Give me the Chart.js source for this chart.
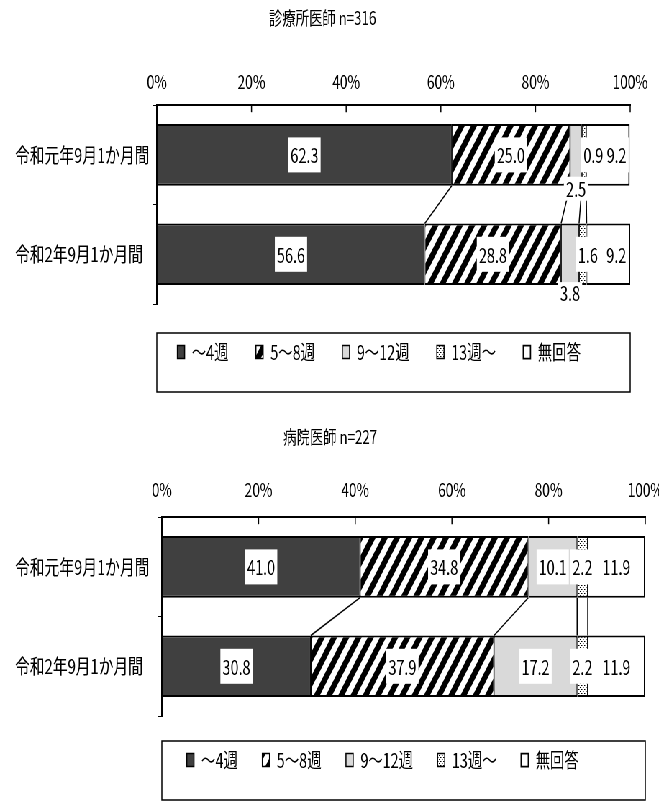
<!DOCTYPE html>
<html lang="ja">
<head>
<meta charset="utf-8">
<title>診療所医師・病院医師</title>
<script src="https://cdn.jsdelivr.net/npm/chart.js@4.4.1/dist/chart.umd.min.js"></script>
<style>
  html, body { margin: 0; padding: 0; background: #fff; overflow: hidden; }
  /* narrow gothic look: the charts are laid out wide, then squeezed */
  #sheet { width: 916px; transform: scaleX(0.7194); transform-origin: 0 0; }
  canvas { display: block; }
</style>
</head>
<body>
<div id="sheet">
  <canvas id="clinic" width="916" height="405"></canvas>
  <canvas id="hospital" width="916" height="400"></canvas>
</div>
<script>
// 期間と回答区分
const periods = ['令和元年9月1か月間', '令和2年9月1か月間'];
const bands = ['～4週', '5～8週', '9～12週', '13週～', '無回答'];

// 診療所医師 n=316 (%)
const clinicTitle = '診療所医師 n=316';
const clinicUpTo4 = [62.3, 56.6];
const clinic5to8 = [25.0, 28.8];
const clinic9to12 = [2.5, 3.8];
const clinic13plus = [0.9, 1.6];
const clinicNoAnswer = [9.2, 9.2];

// 病院医師 n=227 (%)
const hospitalTitle = '病院医師 n=227';
const hospitalUpTo4 = [41.0, 30.8];
const hospital5to8 = [34.8, 37.9];
const hospital9to12 = [10.1, 17.2];
const hospital13plus = [2.2, 2.2];
const hospitalNoAnswer = [11.9, 11.9];

const FONT = '"Noto Sans CJK JP", "Noto Sans", sans-serif';
Chart.defaults.font.family = FONT;
Chart.defaults.color = '#000';

// 斜線パターン
function hatchFill() {
  const tile = document.createElement('canvas');
  tile.width = 17; tile.height = 24;
  const g = tile.getContext('2d');
  g.fillStyle = '#fff';
  g.fillRect(0, 0, 17, 24);
  g.strokeStyle = '#000';
  g.lineWidth = 7;
  for (const dx of [-17, 0, 17]) {
    g.beginPath();
    g.moveTo(dx - 17, 48);
    g.lineTo(dx + 34, -24);
    g.stroke();
  }
  return g.createPattern(tile, 'repeat');
}

// 網点パターン
function dotFill() {
  const tile = document.createElement('canvas');
  tile.width = 4; tile.height = 4;
  const g = tile.getContext('2d');
  g.fillStyle = '#fff';
  g.fillRect(0, 0, 4, 4);
  g.fillStyle = '#000';
  g.fillRect(0, 0, 1.5, 1);
  g.fillRect(2, 2, 1.5, 1);
  return g.createPattern(tile, 'repeat');
}

const fills = ['#404040', hatchFill(), '#d9d9d9', dotFill(), '#ffffff'];

// 区分の境目をつなぐ線と数値ラベル(白地)
const valueLabels = {
  id: 'valueLabels',
  afterDatasetsDraw(chart, args, opts) {
    const { ctx } = chart;
    ctx.save();

    ctx.strokeStyle = '#000';
    ctx.lineWidth = 1.5;
    for (let i = 0; i < chart.data.datasets.length - 1; i++) {
      const [upper, lower] = chart.getDatasetMeta(i).data;
      ctx.beginPath();
      ctx.moveTo(upper.x, upper.y + upper.height / 2);
      ctx.lineTo(lower.x, lower.y - lower.height / 2);
      ctx.stroke();
    }

    ctx.font = '20px ' + FONT;
    ctx.textAlign = 'center';
    ctx.textBaseline = 'middle';
    chart.data.datasets.forEach((ds, i) => {
      chart.getDatasetMeta(i).data.forEach((bar, j) => {
        const nudge = (opts.nudges || {})[i + ':' + j] || {};
        const text = ds.data[j].toFixed(1);
        const x = (bar.x + bar.base) / 2 + (nudge.dx || 0);
        const y = nudge.below !== undefined ? bar.y + bar.height / 2 + nudge.below : bar.y;
        const w = ctx.measureText(text).width + 6;
        const h = nudge.boxH || 35;
        ctx.fillStyle = '#fff';
        ctx.fillRect(x - w / 2, y - h / 2, w, h);
        ctx.fillStyle = '#000';
        ctx.fillText(text, x, y + 1);
      });
    });
    ctx.restore();
  }
};

// 目盛線は軸から内側へ
const innerTicks = {
  id: 'innerTicks',
  afterDatasetsDraw(chart) {
    const { ctx, chartArea, scales: { x } } = chart;
    ctx.save();
    ctx.strokeStyle = '#000';
    ctx.lineWidth = 1.5;
    x.ticks.forEach(t => {
      const px = x.getPixelForValue(t.value);
      ctx.beginPath();
      ctx.moveTo(px, chartArea.top);
      ctx.lineTo(px, chartArea.top + 7);
      ctx.stroke();
    });
    ctx.restore();
  }
};

// 凡例の位置合わせと枠
const legendFrame = {
  id: 'legendFrame',
  afterLayout(chart, args, opts) {
    const lg = chart.legend;
    const d = opts.centerX - (lg.left + lg.right) / 2;
    lg.left += d;
    lg.right += d;
  },
  afterDraw(chart) {
    const { ctx, chartArea, legend } = chart;
    const lab = legend.options.labels;
    const cy = legend.top + lab.padding + Math.max(lab.font.size, lab.boxHeight) / 2;
    ctx.save();
    ctx.strokeStyle = '#000';
    ctx.lineWidth = 1.5;
    ctx.strokeRect(chartArea.left, cy - 19, chartArea.right - chartArea.left, 59);
    ctx.restore();
  }
};

function drawChart(canvasId, title, series, look) {
  return new Chart(document.getElementById(canvasId), {
    type: 'bar',
    data: {
      labels: periods,
      datasets: series.map((data, i) => ({
        label: bands[i],
        data,
        backgroundColor: fills[i],
        borderColor: '#000',
        borderWidth: { top: 2, bottom: 2, left: 1, right: i === series.length - 1 ? 2 : 1 },
        borderSkipped: false,
        barPercentage: 0.62,
        categoryPercentage: 1
      }))
    },
    options: {
      indexAxis: 'y',
      responsive: false,
      animation: false,
      devicePixelRatio: 1,
      layout: { padding: { left: 21, right: look.padRight, top: 0, bottom: look.padBottom } },
      scales: {
        x: {
          position: 'top',
          stacked: true,
          min: 0,
          max: 100,
          ticks: { stepSize: 20, padding: look.tickPad, font: { size: 19 }, callback: v => v + '%' },
          grid: { drawOnChartArea: false, drawTicks: false },
          border: { color: '#000', width: 2 },
          afterFit: s => { s.height = look.xAxisHeight; s.paddingLeft = 0; s.paddingRight = 0; }
        },
        y: {
          stacked: true,
          ticks: { crossAlign: 'far', font: { size: 20.5 } },
          grid: { offset: true, drawOnChartArea: false, tickLength: 5, color: '#000', lineWidth: 1 },
          border: { color: '#000', width: 2 },
          afterFit: s => { s.width = look.yAxisWidth; s.paddingTop = 0; s.paddingBottom = 0; }
        }
      },
      plugins: {
        title: {
          display: true,
          text: title,
          font: { size: 18.5, weight: 'normal' },
          padding: { top: look.titleTop, bottom: 0 }
        },
        legend: {
          position: 'bottom',
          labels: { boxWidth: 10, boxHeight: 13, padding: look.legendPad, font: { size: 20 } }
        },
        tooltip: { enabled: false },
        valueLabels: { nudges: look.nudges || {} },
        legendFrame: { centerX: look.legendCenter }
      }
    },
    plugins: [innerTicks, valueLabels, legendFrame]
  });
}

drawChart('clinic', clinicTitle,
  [clinicUpTo4, clinic5to8, clinic9to12, clinic13plus, clinicNoAnswer], {
    padRight: 40, padBottom: 33, titleTop: 7, xAxisHeight: 76, tickPad: 11.6,
    yAxisWidth: 197, legendPad: 38, legendCenter: 527,
    nudges: {
      '2:0': { below: 3, boxH: 24 },
      '2:1': { below: 7, boxH: 20 },
      '3:0': { dx: 13 },
      '3:1': { dx: 7 },
      '4:0': { dx: 12 },
      '4:1': { dx: 11 }
    }
  });

drawChart('hospital', hospitalTitle,
  [hospitalUpTo4, hospital5to8, hospital9to12, hospital13plus, hospitalNoAnswer], {
    padRight: 19, padBottom: 25, titleTop: 21, xAxisHeight: 69, tickPad: 15.6,
    yAxisWidth: 204, legendPad: 34, legendCenter: 532
  });
</script>
</body>
</html>
